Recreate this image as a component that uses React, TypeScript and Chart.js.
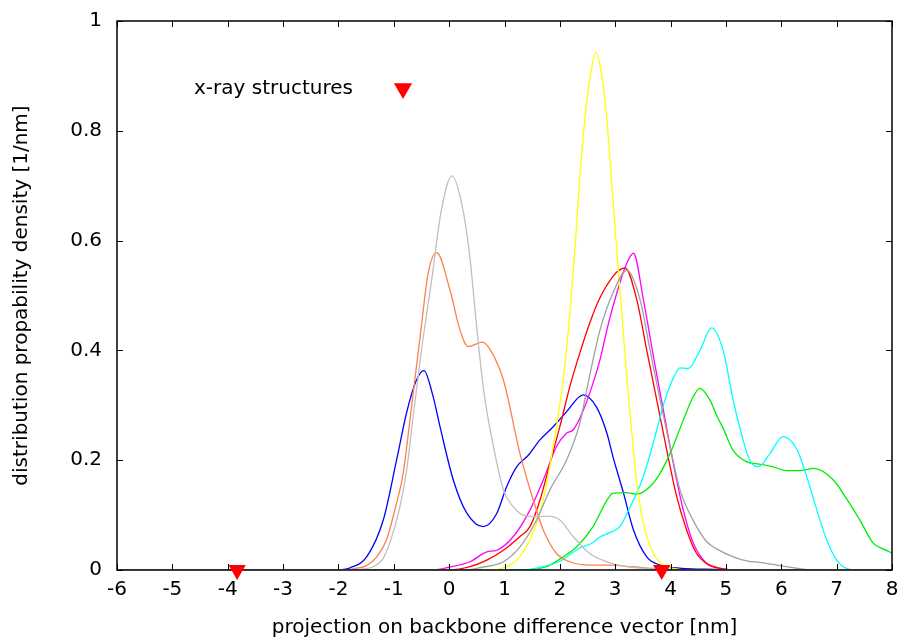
import React, { useEffect, useRef } from "react";
import { Chart, registerables } from "chart.js";

Chart.register(...registerables);

// ---------- data ----------
const xMin = -6;
const xMax = 8;
const xStep = 1;
const yMin = 0;
const yMax = 1;
const yStep = 0.2;

const xTitle = "projection on backbone difference vector [nm]";
const yTitle = "distribution propability density [1/nm]";
const legendLabel = "x-ray structures";

// x-ray structure positions (on the baseline)
const xRayX = [-3.83, 3.84];
const xRayY = [0, 0];

// curves as [x, y] pairs
const silverCurve: number[][] = [
  [-6, 0], [-2, 0], [-1.7, 0.001], [-1.4, 0.005], [-1.2, 0.02], [-1.07, 0.05], [-0.9, 0.11],
  [-0.77, 0.18], [-0.65, 0.28], [-0.5, 0.4], [-0.3, 0.54], [-0.15, 0.65], [0.05, 0.718],
  [0.25, 0.656], [0.38, 0.565], [0.5, 0.44], [0.62, 0.33], [0.8, 0.225], [0.98, 0.146],
  [1.16, 0.115], [1.34, 0.1], [1.58, 0.097], [1.79, 0.098], [2.0, 0.091], [2.24, 0.061],
  [2.54, 0.03], [2.85, 0.015], [3.2, 0.006], [3.7, 0.002], [4.2, 0], [8, 0],
];

const grayCurve: number[][] = [
  [-6, 0], [0.3, 0], [0.6, 0.005], [0.98, 0.015], [1.28, 0.042], [1.58, 0.091], [1.82, 0.146],
  [2.12, 0.2], [2.36, 0.267], [2.51, 0.34], [2.72, 0.435], [2.96, 0.505], [3.21, 0.546],
  [3.45, 0.492], [3.63, 0.4], [3.81, 0.31], [3.99, 0.225], [4.17, 0.146], [4.41, 0.09],
  [4.65, 0.052], [4.84, 0.038], [5.13, 0.024], [5.4, 0.016], [5.6, 0.014], [5.98, 0.008],
  [6.3, 0.003], [6.6, 0], [8, 0],
];

const redCurve: number[][] = [
  [-6, 0], [0, 0], [0.376, 0.006], [0.68, 0.018], [0.98, 0.036], [1.28, 0.061], [1.46, 0.079],
  [1.64, 0.127], [1.82, 0.194], [2.0, 0.261], [2.18, 0.334], [2.36, 0.395], [2.54, 0.45],
  [2.72, 0.495], [2.96, 0.535], [3.1, 0.548], [3.18, 0.55], [3.39, 0.492], [3.57, 0.4],
  [3.75, 0.31], [3.93, 0.219], [4.11, 0.134], [4.29, 0.073], [4.47, 0.03], [4.65, 0.012],
  [4.9, 0.003], [5.2, 0], [8, 0],
];

const magentaCurve: number[][] = [
  [-6, 0], [-0.3, 0], [0, 0.005], [0.376, 0.015], [0.68, 0.033], [0.86, 0.036], [1.16, 0.061],
  [1.46, 0.109], [1.7, 0.164], [1.94, 0.225], [2.12, 0.249], [2.24, 0.255], [2.42, 0.29],
  [2.63, 0.35], [2.73, 0.385], [2.88, 0.45], [3.03, 0.505], [3.21, 0.559], [3.33, 0.577],
  [3.51, 0.492], [3.69, 0.389], [3.87, 0.291], [4.05, 0.194], [4.23, 0.109], [4.41, 0.049],
  [4.65, 0.012], [4.9, 0.003], [5.2, 0], [8, 0],
];

const yellowCurve: number[][] = [
  [-6, 0], [0.8, 0], [0.92, 0.002], [1.22, 0.018], [1.46, 0.055], [1.67, 0.115], [1.88, 0.225],
  [2.06, 0.346], [2.17, 0.455], [2.27, 0.58], [2.35, 0.7], [2.45, 0.82], [2.55, 0.9],
  [2.65, 0.943], [2.76, 0.9], [2.85, 0.82], [2.94, 0.7], [3.03, 0.58], [3.13, 0.455],
  [3.21, 0.35], [3.3, 0.25], [3.39, 0.158], [3.51, 0.085], [3.69, 0.03], [3.87, 0.009],
  [4.1, 0.002], [4.3, 0], [8, 0],
];

const coralCurve: number[][] = [
  [-6, 0], [-1.9, 0], [-1.7, 0.003], [-1.49, 0.008], [-1.3, 0.025], [-1.13, 0.055],
  [-0.98, 0.11], [-0.83, 0.176], [-0.68, 0.297], [-0.53, 0.42], [-0.38, 0.54], [-0.225, 0.578],
  [0.015, 0.51], [0.196, 0.437], [0.346, 0.407], [0.6, 0.415], [0.75, 0.4], [0.98, 0.346],
  [1.28, 0.212], [1.52, 0.127], [1.7, 0.073], [1.94, 0.03], [2.18, 0.015], [2.54, 0.009],
  [2.9, 0.009], [3.3, 0.006], [3.8, 0.002], [4.2, 0], [8, 0],
];

const blueCurve: number[][] = [
  [-6, 0], [-2.05, 0], [-1.79, 0.004], [-1.49, 0.024], [-1.19, 0.091], [-0.95, 0.2],
  [-0.77, 0.286], [-0.59, 0.346], [-0.455, 0.363], [-0.3, 0.32], [-0.165, 0.261],
  [0.075, 0.164], [0.317, 0.104], [0.617, 0.079], [0.86, 0.103], [1.04, 0.152], [1.22, 0.188],
  [1.43, 0.209], [1.64, 0.237], [1.88, 0.261], [2.12, 0.288], [2.42, 0.319], [2.66, 0.297],
  [2.85, 0.249], [2.96, 0.206], [3.15, 0.14], [3.33, 0.073], [3.57, 0.024], [3.81, 0.009],
  [4.2, 0.003], [4.8, 0.001], [5.2, 0], [8, 0],
];

const cyanCurve: number[][] = [
  [-6, 0], [1.3, 0], [1.6, 0.004], [2.0, 0.016], [2.36, 0.04], [2.6, 0.05], [2.72, 0.06],
  [2.9, 0.068], [3.09, 0.08], [3.27, 0.115], [3.45, 0.155], [3.6, 0.2], [3.75, 0.255],
  [3.9, 0.31], [4.05, 0.35], [4.17, 0.368], [4.32, 0.367], [4.53, 0.4], [4.74, 0.441],
  [4.95, 0.4], [5.13, 0.31], [5.31, 0.237], [5.43, 0.2], [5.58, 0.188], [5.8, 0.213],
  [6.03, 0.243], [6.28, 0.22], [6.46, 0.17], [6.64, 0.11], [6.82, 0.055], [7.0, 0.018],
  [7.2, 0.002], [7.4, 0], [8, 0],
];

const greenCurve: number[][] = [
  [-6, 0], [1.28, 0], [1.76, 0.006], [2.06, 0.024], [2.3, 0.042], [2.6, 0.079], [2.85, 0.127],
  [2.96, 0.14], [3.2, 0.141], [3.39, 0.138], [3.63, 0.152], [3.81, 0.176], [3.99, 0.212],
  [4.23, 0.273], [4.41, 0.316], [4.53, 0.331], [4.71, 0.31], [4.84, 0.28], [4.95, 0.258],
  [5.13, 0.218], [5.38, 0.197], [5.6, 0.193], [5.85, 0.188], [6.1, 0.181], [6.34, 0.181],
  [6.58, 0.185], [6.94, 0.164], [7.19, 0.128], [7.42, 0.091], [7.66, 0.049], [7.85, 0.038],
  [8.0, 0.031],
];

const curves = [
  { name: "silver", data: silverCurve, color: "#c0c0c0" },
  { name: "coral", data: coralCurve, color: "#ff7f50" },
  { name: "gray", data: grayCurve, color: "#a0a0a0" },
  { name: "yellow", data: yellowCurve, color: "#ffff00" },
  { name: "cyan", data: cyanCurve, color: "#00ffff" },
  { name: "green", data: greenCurve, color: "#00ee00" },
  { name: "red", data: redCurve, color: "#ff0000" },
  { name: "magenta", data: magentaCurve, color: "#ff00ff" },
  { name: "blue", data: blueCurve, color: "#0000ff" },
];

const FONT_FAMILY = "'DejaVu Sans', sans-serif";
const FONT_SIZE = 20;

// ---------- plugins ----------
const framePlugin = {
  id: "frameAndTicks",
  afterDatasetDraw(chart: any, args: any) {
    if (args.index !== 1) return;
    const { ctx, chartArea } = chart;
    const { left, right, top, bottom } = chartArea;
    const xs = chart.scales.x;
    const ys = chart.scales.y;
    const tl = 6;
    ctx.save();
    ctx.strokeStyle = "#000";
    ctx.lineWidth = 1;
    ctx.beginPath();
    xs.ticks.forEach((t: any) => {
      const px = Math.round(xs.getPixelForValue(t.value)) + 0.5;
      ctx.moveTo(px, bottom);
      ctx.lineTo(px, bottom - tl);
      ctx.moveTo(px, top);
      ctx.lineTo(px, top + tl);
    });
    ys.ticks.forEach((t: any) => {
      const py = Math.round(ys.getPixelForValue(t.value)) + 0.5;
      ctx.moveTo(left, py);
      ctx.lineTo(left + tl, py);
      ctx.moveTo(right, py);
      ctx.lineTo(right - tl, py);
    });
    ctx.stroke();
    ctx.lineWidth = 1.5;
    ctx.strokeRect(left, top, right - left, bottom - top);
    ctx.restore();
  },
};

const legendPlugin = {
  id: "xrayLegend",
  afterDraw(chart: any) {
    const { ctx } = chart;
    ctx.save();
    ctx.fillStyle = "#000";
    ctx.font = `${FONT_SIZE}px ${FONT_FAMILY}`;
    ctx.textAlign = "left";
    ctx.textBaseline = "middle";
    ctx.fillText(legendLabel, 194, 89);
    const cx = 403;
    const cy = 88.5;
    const r = 10.5;
    ctx.fillStyle = "#ff0000";
    ctx.beginPath();
    ctx.moveTo(cx, cy + r);
    ctx.lineTo(cx - r * Math.sin(Math.PI / 3), cy - r / 2);
    ctx.lineTo(cx + r * Math.sin(Math.PI / 3), cy - r / 2);
    ctx.closePath();
    ctx.fill();
    ctx.restore();
  },
};

const zeroPadding = (s: any) => {
  s.paddingTop = 0;
  s.paddingBottom = 0;
  s.paddingLeft = 0;
  s.paddingRight = 0;
};

export default function App() {
  const canvasRef = useRef<HTMLCanvasElement | null>(null);

  useEffect(() => {
    if (!canvasRef.current) return;
    const font = { family: FONT_FAMILY, size: FONT_SIZE };

    const datasets: any[] = [
      {
        label: legendLabel,
        data: xRayX.map((x, i) => ({ x, y: xRayY[i] })),
        showLine: false,
        pointStyle: "triangle",
        rotation: 180,
        pointRadius: 10,
        pointBackgroundColor: "#ff0000",
        pointBorderWidth: 0,
        pointBorderColor: "#ff0000",
        clip: false,
      },
      ...curves.map((c) => ({
        label: c.name,
        data: c.data.map(([x, y]) => ({ x, y })),
        borderColor: c.color,
        borderWidth: 1.3,
        pointRadius: 0,
        fill: false,
        cubicInterpolationMode: "monotone",
      })),
    ];

    const chart = new Chart(canvasRef.current, {
      type: "line",
      data: { datasets },
      options: {
        animation: false,
        responsive: false,
        devicePixelRatio: 1,
        events: [],
        layout: { padding: { left: 0, right: 11, top: 21, bottom: 0 } },
        plugins: {
          legend: { display: false },
          tooltip: { enabled: false },
        },
        scales: {
          x: {
            type: "linear",
            min: xMin,
            max: xMax,
            ticks: {
              stepSize: xStep,
              font,
              color: "#000",
              padding: 8,
              maxRotation: 0,
              autoSkip: false,
            },
            grid: { display: false, drawTicks: false },
            border: { display: false },
            title: {
              display: true,
              text: xTitle,
              font,
              color: "#000",
              padding: { top: 0, bottom: 1 },
            },
            afterFit: (s: any) => {
              s.height = 71;
              zeroPadding(s);
            },
          },
          y: {
            type: "linear",
            min: yMin,
            max: yMax,
            ticks: {
              stepSize: yStep,
              font,
              color: "#000",
              padding: 15,
              callback: (v: any) => String(Math.round(Number(v) * 10) / 10),
            },
            grid: { display: false, drawTicks: false },
            border: { display: false },
            title: {
              display: true,
              text: yTitle,
              font,
              color: "#000",
              padding: { top: 10, bottom: 0 },
            },
            afterFit: (s: any) => {
              s.width = 117;
              zeroPadding(s);
            },
          },
        },
      } as any,
      plugins: [framePlugin, legendPlugin],
    });
    return () => chart.destroy();
  }, []);

  return (
    <div style={{ position: "absolute", left: 0, top: 0, width: 903, height: 641, background: "#fff" }}>
      <canvas ref={canvasRef} width={903} height={641} style={{ display: "block" }} />
    </div>
  );
}
